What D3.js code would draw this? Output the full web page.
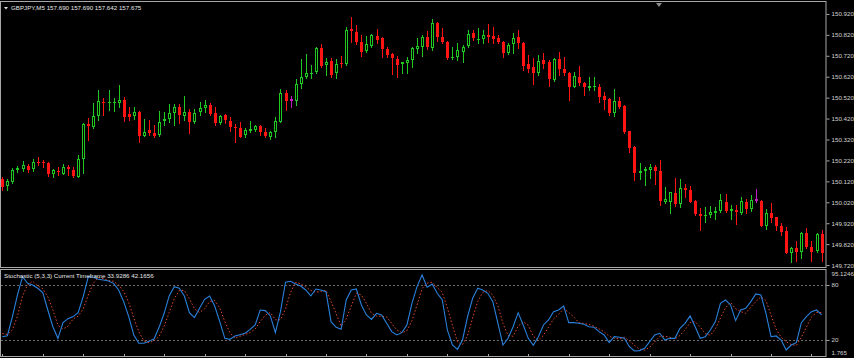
<!DOCTYPE html>
<html>
<head>
<meta charset="utf-8">
<script src="https://cdn.jsdelivr.net/npm/d3@7"></script>
<style>
body{margin:0;background:#000;}
text{font-family:"Liberation Sans",Arial,sans-serif;}
</style>
</head>
<body>
<div id="chart"></div>
<script>
const W = 854, H = 358;

//------------------------------ candle data (GBPJPY M5) ------------------------------
const open = [150.130,150.098,150.118,150.174,150.179,150.195,150.179,150.214,150.213,150.206,
150.155,150.171,150.157,150.189,150.174,150.142,150.227,150.393,150.381,150.433,
150.501,150.493,150.493,150.496,150.509,150.442,150.433,150.452,150.338,150.366,
150.353,150.342,150.410,150.418,150.447,150.476,150.434,150.452,150.405,150.450,
150.469,150.485,150.448,150.398,150.437,150.409,150.379,150.374,150.342,150.361,
150.366,150.385,150.358,150.334,150.355,150.405,150.544,150.512,150.506,150.586,
150.620,150.635,150.644,150.756,150.676,150.695,150.637,150.687,150.681,150.848,
150.835,150.788,150.745,150.769,150.815,150.804,150.753,150.729,150.705,150.681,
150.687,150.700,150.753,150.764,150.809,150.756,150.879,150.812,150.788,150.708,
150.716,150.740,150.767,150.828,150.797,150.799,150.820,150.815,150.804,150.788,
150.732,150.775,150.812,150.783,150.681,150.665,150.637,150.700,150.688,150.605,
150.704,150.657,150.640,150.573,150.618,150.592,150.568,150.571,150.573,150.528,
150.512,150.445,150.504,150.482,150.361,150.286,150.159,150.170,150.174,150.190,
150.170,150.023,150.023,150.066,150.012,150.090,150.079,150.026,149.964,149.953,
149.959,149.970,149.980,150.023,149.977,149.983,149.970,150.023,149.987,150.034,
150.026,149.907,149.967,149.948,149.907,149.884,149.776,149.800,149.784,149.875,
149.808,149.789,149.868];

const high = [150.141,150.131,150.183,150.194,150.217,150.202,150.226,150.235,150.222,150.211,
150.178,150.187,150.203,150.198,150.187,150.246,150.398,150.422,150.496,150.557,
150.517,150.557,150.517,150.581,150.522,150.474,150.477,150.454,150.417,150.413,
150.390,150.458,150.453,150.490,150.490,150.490,150.528,150.465,150.465,150.501,
150.509,150.496,150.477,150.437,150.441,150.426,150.394,150.405,150.374,150.410,
150.390,150.390,150.374,150.362,150.426,150.560,150.557,150.528,150.609,150.704,
150.729,150.676,150.764,150.777,150.708,150.708,150.704,150.719,150.857,150.904,
150.867,150.820,150.815,150.824,150.847,150.809,150.761,150.735,150.719,150.692,
150.716,150.761,150.804,150.820,150.840,150.895,150.883,150.852,150.791,150.761,
150.780,150.772,150.844,150.844,150.852,150.844,150.872,150.857,150.820,150.791,
150.783,150.828,150.844,150.788,150.724,150.708,150.724,150.735,150.700,150.708,
150.740,150.716,150.644,150.644,150.672,150.596,150.618,150.618,150.586,150.549,
150.517,150.560,150.522,150.485,150.362,150.289,150.209,150.190,150.203,150.198,
150.222,150.095,150.071,150.138,150.130,150.108,150.099,150.031,149.991,149.999,
150.004,149.999,150.060,150.060,150.007,150.007,150.047,150.036,150.055,150.084,
150.031,149.987,150.015,149.951,149.920,149.903,149.808,149.836,149.879,149.899,
149.835,149.872,149.888];

const low = [150.079,150.079,150.114,150.165,150.170,150.166,150.171,150.200,150.190,150.147,
150.142,150.150,150.154,150.150,150.139,150.139,150.161,150.318,150.374,150.413,
150.437,150.461,150.458,150.477,150.410,150.413,150.417,150.310,150.337,150.342,
150.334,150.337,150.390,150.405,150.390,150.398,150.413,150.353,150.401,150.437,
150.453,150.437,150.390,150.394,150.401,150.362,150.310,150.331,150.334,150.358,
150.362,150.342,150.334,150.323,150.334,150.403,150.461,150.474,150.485,150.565,
150.613,150.613,150.640,150.668,150.628,150.620,150.613,150.665,150.676,150.788,
150.777,150.719,150.740,150.764,150.780,150.716,150.716,150.633,150.618,150.640,
150.640,150.665,150.735,150.719,150.751,150.748,150.792,150.780,150.705,150.705,
150.700,150.692,150.764,150.796,150.780,150.783,150.788,150.783,150.780,150.716,
150.729,150.735,150.756,150.652,150.644,150.586,150.628,150.661,150.576,150.600,
150.628,150.628,150.509,150.570,150.581,150.533,150.557,150.557,150.501,150.465,
150.437,150.433,150.469,150.353,150.262,150.127,150.130,150.103,150.135,150.108,
150.007,150.015,149.970,150.004,149.996,150.047,150.020,149.959,149.888,149.927,
149.951,149.940,149.975,149.975,149.940,149.915,149.964,149.967,149.980,150.023,
149.907,149.891,149.927,149.888,149.864,149.776,149.733,149.741,149.752,149.800,
149.741,149.784,149.741];

const close = [150.095,150.122,150.174,150.184,150.198,150.174,150.213,150.208,150.206,150.155,
150.174,150.165,150.189,150.179,150.147,150.227,150.394,150.386,150.433,150.504,
150.496,150.499,150.499,150.509,150.429,150.429,150.453,150.337,150.358,150.350,
150.338,150.405,150.418,150.448,150.476,150.437,150.453,150.405,150.445,150.472,
150.484,150.442,150.398,150.434,150.413,150.381,150.374,150.334,150.366,150.369,
150.385,150.358,150.337,150.358,150.409,150.541,150.506,150.506,150.586,150.618,
150.640,150.640,150.756,150.673,150.692,150.628,150.681,150.684,150.844,150.840,
150.788,150.740,150.777,150.820,150.796,150.751,150.724,150.711,150.676,150.689,
150.700,150.756,150.767,150.812,150.761,150.879,150.812,150.788,150.708,150.713,
150.748,150.764,150.823,150.804,150.802,150.820,150.812,150.802,150.788,150.732,
150.772,150.804,150.780,150.673,150.656,150.637,150.697,150.681,150.608,150.705,
150.657,150.637,150.573,150.624,150.589,150.573,150.576,150.576,150.525,150.509,
150.445,150.504,150.474,150.358,150.278,150.161,150.170,150.179,150.190,150.170,
150.026,150.036,150.068,150.012,150.088,150.079,150.023,149.964,149.956,149.959,
149.972,149.980,150.031,149.978,149.989,149.975,150.026,149.987,150.031,150.028,
149.908,149.967,149.946,149.907,149.880,149.779,149.800,149.784,149.875,149.808,
149.784,149.868,149.776];

// bars drawn in magenta on the original chart
const markedBars = [57, 149];

//------------------------------ stochastic (5,3,3) ------------------------------
const kLine = [23.6,24.7,45.5,69.1,89.1,81.8,80,76.4,71.6,52.7,
34.5,21.8,38.9,43.3,45.5,49.8,67.3,89.1,88.4,86.2,
85.5,84.4,81.8,74.5,61.8,45.5,25.5,16.4,16.4,18.5,
21.1,33.8,49.1,68,78.2,76.4,68,49.8,44.4,54.5,
64.4,68,57.1,40,21.8,20.7,24.4,25.8,27.3,31.6,
36.4,52.7,52,46.2,28,50.9,83,84,81.1,78.9,
74.5,68,75.6,74.5,72.7,40,33.8,31.6,63.6,74.5,
75.6,58.2,47.3,42.5,49.1,47.3,38.2,29.1,25.5,28,
36.4,60,78.2,90.9,77.5,81.1,70.9,63.6,30.9,14.5,
9.8,20,45.5,65.5,76.4,74.5,70.9,61.8,38.2,14.5,
21.8,34.5,49.8,36.4,21.8,14.2,23.6,36.4,41.8,50.9,
52.7,57.1,38.9,38.9,38.2,37.1,34.5,33.8,29.1,25.5,
17.1,23.6,22.9,21.8,12.7,8,8.4,10.9,18.2,25.5,
27.3,20,21.8,21.8,32.7,38.2,46.2,34.5,21.8,23.6,
30.9,40,60,63.6,58.2,41.1,52.7,54.5,61.8,70.2,
69.1,49.1,23.6,24.4,20,9.1,14.5,17.1,38.9,45.5,
50.9,52.7,47.3];

const dLine = [27,26,31,46,68,80,84,79,76,67,
53,36,32,35,43,46,54,69,82,88,
87,85,84,80,73,61,44,29,19,17,
19,24,35,50,65,74,74,65,54,50,
54,62,63,55,40,28,22,24,26,28,
32,40,47,50,42,42,54,72,83,81,
78,74,72,73,74,62,49,35,43,57,
71,69,60,49,46,46,45,38,31,28,
30,41,58,76,82,83,77,72,55,36,
18,15,25,44,62,72,74,69,57,38,
25,24,35,40,36,24,20,25,34,43,
48,54,50,45,39,38,37,35,32,29,
24,22,21,23,19,14,10,9,12,18,
24,24,23,21,25,31,39,40,34,27,
25,32,44,55,61,54,51,49,56,62,
67,63,47,32,23,18,15,14,23,34,
45,50,50];

const priceTicks = [150.92,150.82,150.72,150.62,150.52,150.42,150.32,150.22,150.12,150.02,149.92,149.82,149.72];
const stochLevels = [80, 20];
const stochMin = 1.765, stochMax = 95.1246;

const titleMain = "GBPJPY,M5  157.690 157.690 157.642 157.675";
const titleStoch = "Stochastic (5,3,3) Current Timeframe 33.9286 42.1656";

//------------------------------ layout ------------------------------
const plotR = 826;
const mainTop = 2, mainBot = 268;
const stTop = 271.1, stBot = 356.7;

const bull = "#22c822", bear = "#ff1414", mark = "#c020c0";
const frameCol = "#a8a8a8", textCol = "#d2d2d2";

const svg = d3.select("#chart")
  .append("svg")
    .attr("width", W)
    .attr("height", H)
    .style("background", "#000");

const x = d3.scaleLinear().domain([0, open.length - 1]).range([2.3, 821.6]);
const y = d3.scaleLinear().domain([149.706, 150.977]).range([mainBot, mainTop]);
const ys = d3.scaleLinear().domain([stochMin, stochMax]).range([stBot, stTop]);

svg.append("clipPath").attr("id", "clipMain")
  .append("rect").attr("x", 1).attr("y", mainTop).attr("width", plotR - 1).attr("height", mainBot - mainTop - 1);
svg.append("clipPath").attr("id", "clipStoch")
  .append("rect").attr("x", 1).attr("y", 270).attr("width", plotR - 1).attr("height", 87);

//------------------------------ candles ------------------------------
const candles = d3.range(open.length).map(i => ({
  i: i, o: open[i], h: high[i], l: low[i], c: close[i],
  marked: markedBars.includes(i)
}));

const gMain = svg.append("g").attr("clip-path", "url(#clipMain)");

const cg = gMain.selectAll("g.candle")
  .data(candles)
  .enter()
  .append("g")
    .attr("class", "candle");

cg.each(function(d) {
  const g = d3.select(this);
  const cx = Math.round(x(d.i));
  const up = d.c >= d.o;
  const col = d.marked ? mark : (up ? bull : bear);
  const top = Math.round(y(Math.max(d.o, d.c)));
  const bot = Math.round(y(Math.min(d.o, d.c)));
  const bh = Math.max(1, bot - top);

  g.append("line")
    .attr("x1", cx + 0.5).attr("x2", cx + 0.5)
    .attr("y1", Math.round(y(d.h))).attr("y2", Math.round(y(d.l)) + 1)
    .attr("stroke", col)
    .attr("stroke-width", 1);

  if (d.marked || bh < 3) {
    g.append("rect")
      .attr("x", cx - 1).attr("y", top)
      .attr("width", 3).attr("height", bh)
      .attr("fill", col);
  } else if (up) {
    g.append("rect")
      .attr("x", cx - 0.5).attr("y", top + 0.5)
      .attr("width", 2).attr("height", bh - 1)
      .attr("fill", "#000")
      .attr("stroke", col)
      .attr("stroke-width", 1);
  } else {
    g.append("rect")
      .attr("x", cx - 1).attr("y", top)
      .attr("width", 3).attr("height", bh)
      .attr("fill", col);
  }
});

//------------------------------ stochastic ------------------------------
const gSt = svg.append("g").attr("clip-path", "url(#clipStoch)");

gSt.selectAll("line.level")
  .data(stochLevels)
  .enter()
  .append("line")
    .attr("class", "level")
    .attr("x1", 1).attr("x2", plotR)
    .attr("y1", d => Math.round(ys(d)) + 0.5)
    .attr("y2", d => Math.round(ys(d)) + 0.5)
    .attr("stroke", "#6a6a6a")
    .attr("stroke-dasharray", "2,2");

const lineK = d3.line().x((d, i) => x(i)).y(d => ys(d));

gSt.append("path")
  .datum(dLine)
  .attr("d", lineK)
  .attr("fill", "none")
  .attr("stroke", "#e2482c")
  .attr("stroke-width", 1)
  .attr("stroke-dasharray", "1.5,2");

gSt.append("path")
  .datum(kLine)
  .attr("d", lineK)
  .attr("fill", "none")
  .attr("stroke", "#2a80dc")
  .attr("stroke-width", 1.1);

//------------------------------ frames ------------------------------
svg.append("rect")
  .attr("x", 0.5).attr("y", 1.5)
  .attr("width", plotR - 0.5).attr("height", mainBot - 1.5 - 0.5)
  .attr("fill", "none").attr("stroke", frameCol);

svg.append("rect")
  .attr("x", 0.5).attr("y", 269.5)
  .attr("width", plotR - 0.5).attr("height", 87)
  .attr("fill", "none").attr("stroke", frameCol);

// time ticks along the bottom, every 8 bars
svg.selectAll("line.tt")
  .data(d3.range(0, open.length, 8))
  .enter()
  .append("line")
    .attr("class", "tt")
    .attr("x1", d => Math.round(x(d)) + 0.5).attr("x2", d => Math.round(x(d)) + 0.5)
    .attr("y1", 354).attr("y2", 357)
    .attr("stroke", frameCol);

//------------------------------ axes ------------------------------
const axisPrice = svg.append("g")
  .attr("transform", "translate(" + (plotR + 0.5) + ",0)")
  .call(d3.axisRight(y).tickValues(priceTicks).tickFormat(d3.format(".3f")).tickSize(3).tickPadding(2));

const axisSt = svg.append("g")
  .attr("transform", "translate(" + (plotR + 0.5) + ",0)")
  .call(d3.axisRight(ys).tickValues(stochLevels).tickFormat(d3.format("d")).tickSize(3).tickPadding(2));

[axisPrice, axisSt].forEach(a => {
  a.select(".domain").remove();
  a.selectAll(".tick line").attr("stroke", frameCol);
  a.selectAll(".tick text")
    .attr("fill", textCol)
    .style("font-size", "6.2px")
    .style("font-family", "'Liberation Sans', Arial, sans-serif");
});

// extreme values of the stochastic window
svg.append("text")
  .attr("x", plotR + 5.5).attr("y", ys(stochMax) + 5)
  .attr("fill", textCol).style("font-size", "6.2px")
  .text(stochMax);
svg.append("text")
  .attr("x", plotR + 5.5).attr("y", ys(stochMin) - 2)
  .attr("fill", textCol).style("font-size", "6.2px")
  .text(stochMin);

//------------------------------ titles ------------------------------
svg.append("path")
  .attr("d", "M4,7 L8,7 L6,9.5 Z")
  .attr("fill", "#e0e0e0");

svg.append("text")
  .attr("x", 11).attr("y", 10)
  .attr("fill", "#e6e6e6")
  .style("font-size", "6.2px")
  .text(titleMain);

svg.append("text")
  .attr("x", 4).attr("y", 278)
  .attr("fill", "#e6e6e6")
  .style("font-size", "6.2px")
  .text(titleStoch);

// chart shift marker
svg.append("path")
  .attr("d", "M656,3 L662,3 L659,7 Z")
  .attr("fill", "#8a8a8a");
</script>
</body>
</html>
